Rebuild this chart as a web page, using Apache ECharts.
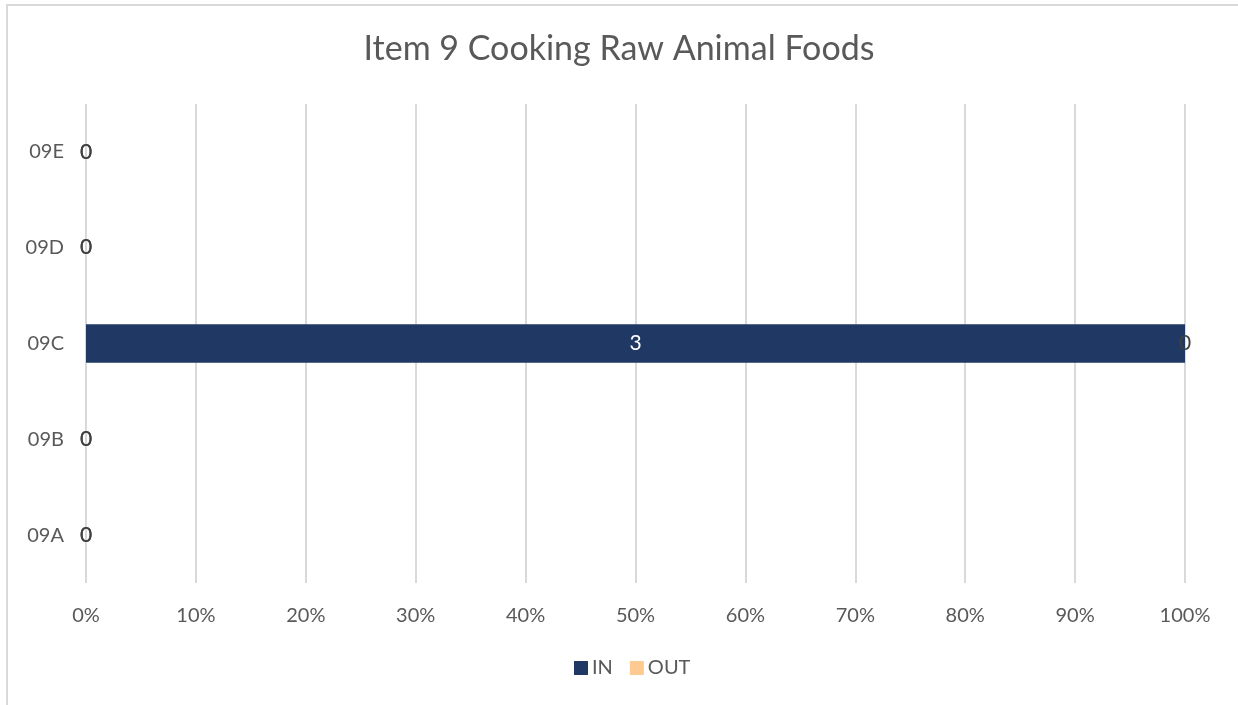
<!DOCTYPE html>
<html>
<head>
<meta charset="utf-8">
<script src="https://cdn.jsdelivr.net/npm/echarts@6/dist/echarts.min.js"></script>
<style>
  html, body { margin: 0; padding: 0; background: #fff; }
  #chart { width: 1238px; height: 705px; }
</style>
</head>
<body>
<div id="chart"></div>
<script>
// Item codes, bottom to top on the category axis
const categories = ['09A', '09B', '09C', '09D', '09E'];
// Raw counts per item
const inCounts = [0, 0, 3, 0, 0];
const outCounts = [0, 0, 0, 0, 0];
// Percent axis ticks
const percentTicks = [0, 10, 20, 30, 40, 50, 60, 70, 80, 90, 100];

const FONT = 'Lato';
const TEXT = '#595959';

// 100% stacked shares computed from the raw counts
function share(arr, i) {
  const total = inCounts[i] + outCounts[i];
  return total === 0 ? 0 : arr[i] / total * 100;
}
const inShare = categories.map((_, i) => share(inCounts, i));
const outShare = categories.map((_, i) => share(outCounts, i));

const chart = echarts.init(document.getElementById('chart'), null, { renderer: 'canvas' });

chart.setOption({
  animation: false,
  backgroundColor: '#fff',
  title: {
    text: 'Item 9 Cooking Raw Animal Foods',
    left: 'center',
    top: 27,
    textStyle: { fontFamily: FONT, fontSize: 34, fontWeight: 'normal', color: TEXT }
  },
  graphic: [
    { type: 'line', shape: { x1: 7, y1: 5, x2: 1238, y2: 5 }, style: { stroke: '#d9d9d9', lineWidth: 2 }, silent: true },
    { type: 'line', shape: { x1: 7, y1: 4, x2: 7, y2: 705 }, style: { stroke: '#d9d9d9', lineWidth: 2 }, silent: true }
  ],
  legend: {
    data: ['IN', 'OUT'],
    bottom: 22,
    left: 569,
    icon: 'rect',
    itemWidth: 14,
    itemHeight: 14,
    itemGap: 17,
    textStyle: { fontFamily: FONT, fontSize: 20, color: TEXT, padding: [0, 0, 0, -1] }
  },
  grid: { left: 86, right: 53, top: 104, bottom: 122, containLabel: false },
  xAxis: {
    type: 'value',
    min: 0,
    max: 100,
    interval: 10,
    axisLine: { show: false },
    axisTick: { show: false },
    splitLine: { show: true, lineStyle: { color: '#d9d9d9', width: 2 } },
    axisLabel: {
      fontFamily: FONT, fontSize: 20, color: TEXT, margin: 23,
      formatter: v => (percentTicks.includes(v) ? v + '%' : '')
    }
  },
  yAxis: {
    type: 'category',
    data: categories,
    axisLine: { show: false },
    axisTick: { show: false },
    axisLabel: { fontFamily: FONT, fontSize: 20, color: TEXT, margin: 22 }
  },
  series: [
    {
      name: 'IN',
      type: 'bar',
      stack: 'total',
      barCategoryGap: '60%',
      data: inShare.map(v => (v > 0 ? { value: v, label: { color: '#ffffff' } } : v)),
      itemStyle: { color: '#203864' },
      label: {
        show: true,
        position: 'inside',
        fontFamily: FONT,
        fontSize: 21,
        color: '#404040',
        formatter: p => String(inCounts[p.dataIndex])
      },
      z: 2
    },
    {
      name: 'OUT',
      type: 'bar',
      stack: 'total',
      data: outShare,
      itemStyle: { color: '#FFC992' },
      label: {
        show: true,
        position: 'inside',
        fontFamily: FONT,
        fontSize: 21,
        color: '#404040',
        formatter: p => String(outCounts[p.dataIndex])
      },
      z: 3
    }
  ]
});
</script>
</body>
</html>
